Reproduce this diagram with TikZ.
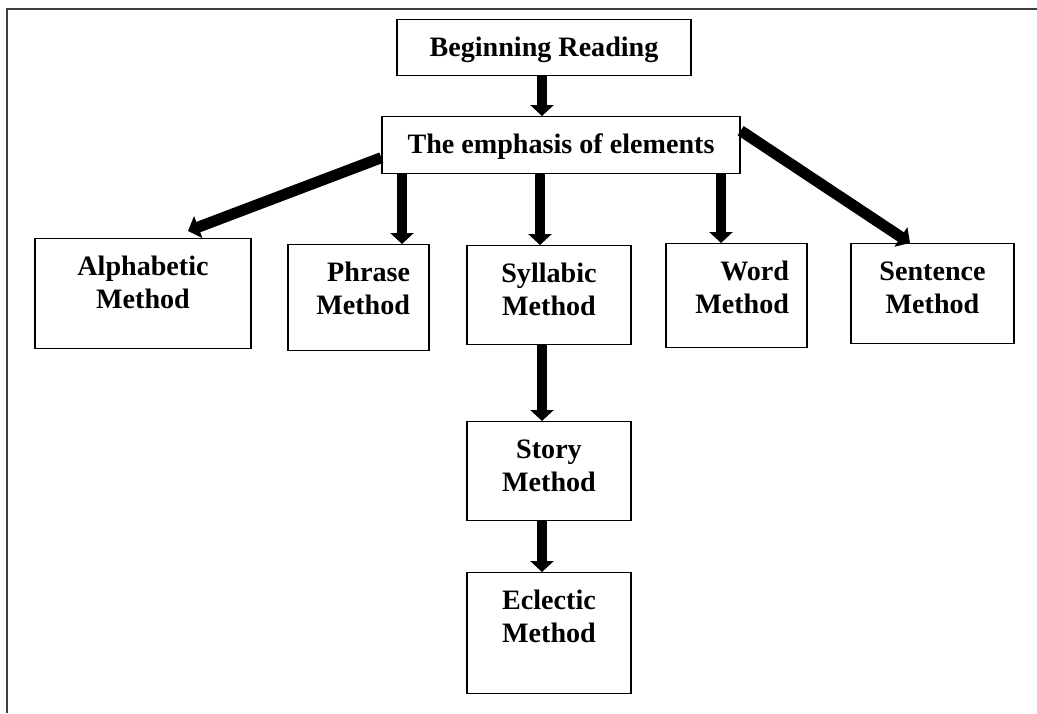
\documentclass[tikz,border=0pt]{standalone}
\usepackage{fontspec}
\setmainfont{Liberation Serif}
\usetikzlibrary{arrows.meta}

\begin{document}
\begin{tikzpicture}[x=0.02cm, y=-0.02cm,
        box/.style = {draw, line width=0.8pt, anchor=north, align=center,
            font=\fontsize{16}{19}\selectfont\bfseries,
            inner xsep=0.1cm, inner ysep=0.34cm, text height=0.39cm},
        method/.style = {box, text width=2.8cm},
        arr/.style = {line width=5.8pt, -{Triangle[length=2.2mm,width=4.6mm]}},
        frame/.style = {line width=1.2pt, black!75}]
        \useasboundingbox (0,0) rectangle (1037,713);
        \draw[frame] (7,713) -- (7,9) -- (1037,9);
        \node[box, minimum width=5.88cm, text depth=0.05cm] (begin) at (544,19) {Beginning Reading};
        \node[box, minimum width=7.16cm, text depth=0.07cm] (emph) at (561,116) {The emphasis of elements};
        \node[method, minimum width=4.32cm, text depth=1.13cm] (alpha) at (143,238) {Alphabetic\\Method};
        \node[method, text width=2.06cm, align=right, minimum width=2.82cm, text depth=1.05cm] (phrase) at (358.5,244) {Phrase\\Method};
        \node[method, minimum width=3.28cm, text depth=0.91cm] (syll) at (549,245) {Syllabic\\Method};
        \node[method, text width=2.1cm, align=right, minimum width=2.82cm, text depth=1.01cm] (word) at (736.5,243) {Word\\Method};
        \node[method, minimum width=3.26cm, text depth=0.93cm] (sent) at (932.5,243) {Sentence\\Method};
        \node[method, minimum width=3.28cm, text depth=0.91cm] (story) at (549,421) {Story\\Method};
        \node[method, minimum width=3.28cm, text depth=1.35cm] (eclec) at (549,572) {Eclectic\\Method};
        \draw[arr] ([xshift=-0.04cm]begin.south) -- ([xshift=-0.04cm]begin.south |- emph.north);
        \draw[arr, line width=6.3pt] ([yshift=-0.25cm]emph.west) -- ([xshift=0.9cm,yshift=0.14cm]alpha.north);
        \draw[arr] ([xshift=0.87cm]phrase.north |- emph.south) -- ([xshift=0.87cm]phrase.north);
        \draw[arr] ([xshift=-0.18cm]syll.north |- emph.south) -- ([xshift=-0.18cm]syll.north);
        \draw[arr] ([xshift=-0.31cm]word.north |- emph.south) -- ([xshift=-0.31cm]word.north);
        \draw[arr, line width=6.3pt] ([yshift=0.29cm]emph.east) -- ([xshift=-0.45cm]sent.north);
        \draw[arr] ([xshift=-0.14cm]syll.south) -- ([xshift=-0.14cm]story.north);
        \draw[arr] ([xshift=-0.14cm]story.south) -- ([xshift=-0.14cm]eclec.north);
    \end{tikzpicture}
\end{document}
